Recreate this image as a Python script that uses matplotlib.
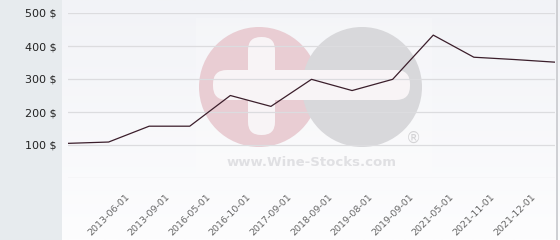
"""
Wine price history chart (Wine-Stocks style) with watermark.
Pure matplotlib.
"""
import matplotlib
matplotlib.use("Agg")
import matplotlib.pyplot as plt
import numpy as np
from matplotlib.patches import Circle, FancyBboxPatch, Rectangle
from matplotlib.colors import LinearSegmentedColormap

# data: 13 points, only the inner 11 carry a label
tick_labels = ["2013-06-01", "2013-09-01", "2016-05-01", "2016-10-01", "2017-09-01",
               "2018-09-01", "2019-08-01", "2019-09-01", "2021-05-01", "2021-11-01",
               "2021-12-01"]
prices = [105, 109, 157, 157, 250, 217, 299, 265, 299, 433, 366, 359, 351]
y_ticks = [100, 200, 300, 400, 500]

W, H = 560, 240
fig = plt.figure(figsize=(W / 100, H / 100), dpi=100)

# ── background layer in pixel coordinates ──────────────────
bg = fig.add_axes([0, 0, 1, 1], zorder=0)
bg.set_xlim(0, W); bg.set_ylim(H, 0)
bg.axis("off")

grad = LinearSegmentedColormap.from_list("g", ["#f2f3f7", "#fdfdfe"])
bg.imshow(np.linspace(0, 1, 100).reshape(-1, 1), cmap=grad, aspect="auto",
          extent=[62, W, H, 0], zorder=0)
bg.add_patch(Rectangle((0, 0), 62, H, fc="#e7ebee", ec="none", zorder=1))
bg.add_patch(Rectangle((556, 0), 1.5, H, fc="#cfd0d4", ec="none", zorder=1))

# watermark
bg.add_patch(Rectangle((196, 18), 236, 160, fc="white", ec="none", alpha=0.2, zorder=1))
bg.add_patch(Circle((259, 87), 60, fc="#e9cdd3", ec="none", zorder=2))
bg.add_patch(Circle((362, 87), 60, fc="#d8d8db", ec="none", zorder=3))
bg.add_patch(FancyBboxPatch((248, 37), 27, 98, boxstyle="round,pad=0,rounding_size=13",
                            fc="#f8f4f6", ec="none", zorder=4))
bg.add_patch(FancyBboxPatch((213, 70), 197, 30, boxstyle="round,pad=0,rounding_size=14",
                            fc="#f8f4f6", ec="none", zorder=4))
bg.text(413, 138, "®", ha="center", va="center", fontsize=11, color="#d4d4d6", zorder=5)
bg.text(312, 162, "www.Wine-Stocks.com", ha="center", va="center", fontsize=9.5,
        fontweight="bold", color="#e0e0e3", zorder=5)

# ── chart ───────────────────────────────────────────────────
ax = fig.add_axes([68 / W, 1 - 178 / H, (555 - 68) / W, (178 - 13) / H], zorder=1)
ax.patch.set_visible(False)
x = np.arange(len(prices))
ax.plot(x, prices, color="#3b1e2b", lw=0.9, zorder=3)

ax.set_xlim(0, len(prices) - 1)
ax.set_ylim(0, 500)
ax.set_yticks([0] + y_ticks)
ax.set_yticklabels([""] + [f"{v} $" for v in y_ticks], fontsize=8, color="#222222")
ax.set_xticks(x[1:-1])
ax.set_xticklabels(tick_labels, rotation=45, ha="center", va="top",
                   fontsize=6.8, color="#666666")
ax.tick_params(axis="both", length=0)
ax.tick_params(axis="x", pad=10)
ax.tick_params(axis="y", pad=8)
ax.grid(axis="y", color="#dcdcdf", lw=0.9, zorder=1)
ax.grid(axis="x", visible=False)
for s in ax.spines.values():
    s.set_visible(False)

fig.savefig("out.png", dpi=100)
